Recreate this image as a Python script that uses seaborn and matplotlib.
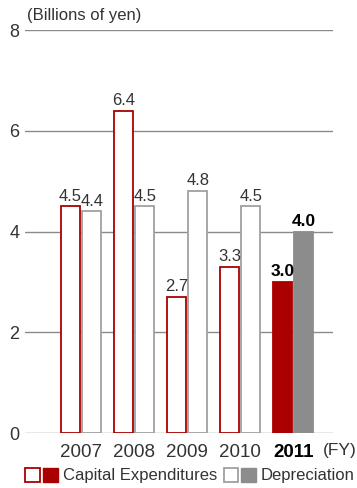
import numpy as np
import pandas as pd
import matplotlib
matplotlib.use("Agg")
import matplotlib.pyplot as plt
import seaborn as sns
from matplotlib.patches import Patch
from matplotlib.legend_handler import HandlerTuple

# data
years = ["2007", "2008", "2009", "2010", "2011"]
capex = [4.5, 6.4, 2.7, 3.3, 3.0]
depreciation = [4.4, 4.5, 4.8, 4.5, 4.0]
series = ["Capital Expenditures", "Depreciation"]
y_ticks = [0, 2, 4, 6, 8]

RED = "#aa0000"
GRAY = "#8c8c8c"
GRAY_EDGE = "#a0a0a0"
TXT = "#333333"

sns.set_style("white")
plt.rcParams["font.family"] = ["Liberation Sans", "DejaVu Sans"]

df = pd.DataFrame({
    "year": years * 2,
    "value": capex + depreciation,
    "series": [series[0]] * len(years) + [series[1]] * len(years),
})

fig = plt.figure(figsize=(3.57, 4.88), dpi=100)
ax = fig.add_axes([0.070, 0.1127, 0.863, 0.8258])

sns.barplot(data=df, x="year", y="value", hue="series", hue_order=series,
            order=years, width=0.8, gap=0.1, ax=ax, legend=False,
            palette=[RED, GRAY])

edges = [RED, GRAY_EDGE]
fills = [RED, GRAY]
for k, cont in enumerate(ax.containers):
    labels = []
    for i, bar in enumerate(cont.patches):
        last = i == len(years) - 1
        bar.set_edgecolor(edges[k] if not last else fills[k])
        bar.set_facecolor(fills[k] if last else "white")
        bar.set_linewidth(1.3)
        labels.append(f"{cont.datavalues[i]:.1f}")
    txts = ax.bar_label(cont, labels=labels, padding=2, fontsize=12, color=TXT)
    txts[-1].set_fontweight("bold")
    txts[-1].set_color("black")
    txts[-1].set_fontsize(12.5)

ax.set_ylim(0, 8)
ax.set_xlim(-1.06, 4.75)
ax.set_yticks(y_ticks)
ax.yaxis.grid(True, color="#8a8a8a", linewidth=1.0)
ax.set_axisbelow(True)
for s in ax.spines.values():
    s.set_visible(False)
ax.tick_params(axis="both", length=0, labelcolor=TXT)
ax.tick_params(axis="y", pad=4, labelsize=13)
ax.tick_params(axis="x", pad=8, labelsize=13.5)
ax.set_xlabel("")
ax.set_ylabel("")
xl = ax.get_xticklabels()
xl[-1].set_fontweight("bold")
xl[-1].set_color("black")

fig.text(0.0756, 0.969, "(Billions of yen)", fontsize=12, color=TXT,
         ha="left", va="center")
fig.text(0.905, 0.076, "(FY)", fontsize=12.5, color=TXT, ha="left", va="center")

handles = [
    (Patch(facecolor="white", edgecolor=RED, linewidth=1.3),
     Patch(facecolor=RED, edgecolor=RED)),
    (Patch(facecolor="white", edgecolor=GRAY_EDGE, linewidth=1.3),
     Patch(facecolor=GRAY, edgecolor=GRAY)),
]
fig.legend(handles, series, handler_map={tuple: HandlerTuple(ndivide=None, pad=0.2)},
           loc="lower left", bbox_to_anchor=(0.033, -0.018), ncol=2, frameon=False,
           fontsize=12, handlelength=1.95, handleheight=0.95, handletextpad=0.3,
           columnspacing=0.4, labelcolor=TXT, borderpad=0.3)

fig.savefig("out.png", dpi=100)
